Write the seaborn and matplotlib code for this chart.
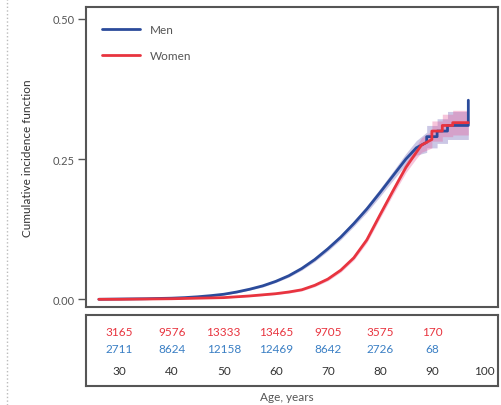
import matplotlib
matplotlib.use("Agg")
import matplotlib.pyplot as plt
from matplotlib.lines import Line2D
import numpy as np
import pandas as pd
import seaborn as sns

# cumulative incidence
men_age = [26, 30, 35, 40, 42.5, 45, 47.5, 50, 52.5, 55, 57.5, 60, 62.5, 65, 67.5, 70,
           72.5, 75, 77.5, 80, 82.5, 85, 87, 89, 89, 91, 91, 93, 93, 97, 97]
men_cif = [0, 0.0005, 0.001, 0.002, 0.003, 0.0045, 0.0065, 0.009, 0.013, 0.018, 0.024,
           0.032, 0.042, 0.055, 0.071, 0.09, 0.111, 0.135, 0.161, 0.19, 0.22, 0.25, 0.27,
           0.28, 0.29, 0.29, 0.30, 0.30, 0.31, 0.31, 0.355]
men_ci = [0, 0, 0, 0.0005, 0.0005, 0.001, 0.001, 0.001, 0.0015, 0.0015, 0.002, 0.002,
          0.0025, 0.003, 0.0035, 0.004, 0.0045, 0.005, 0.006, 0.007, 0.008, 0.01, 0.013,
          0.018, 0.02, 0.02, 0.022, 0.022, 0.025, 0.025, 0.025]

women_age = [26, 30, 35, 40, 45, 50, 52.5, 55, 57.5, 60, 62.5, 65, 67.5, 70, 72.5, 75,
             77.5, 80, 82.5, 85, 87, 88, 90, 90, 92, 92, 94, 94, 97]
women_cif = [0, 0, 0.0005, 0.001, 0.002, 0.003, 0.0045, 0.006, 0.008, 0.010, 0.013, 0.017,
             0.025, 0.036, 0.052, 0.074, 0.106, 0.15, 0.193, 0.235, 0.262, 0.275, 0.285,
             0.30, 0.30, 0.31, 0.31, 0.315, 0.315]
women_ci = [0, 0, 0, 0, 0.0005, 0.0005, 0.001, 0.001, 0.0015, 0.0015, 0.002, 0.002,
            0.0025, 0.003, 0.0035, 0.004, 0.005, 0.006, 0.007, 0.009, 0.011, 0.013, 0.015,
            0.018, 0.018, 0.02, 0.02, 0.022, 0.022]

# numbers at risk
risk_ages = [30, 40, 50, 60, 70, 80, 90]
women_risk = [3165, 9576, 13333, 13465, 9705, 3575, 170]
men_risk = [2711, 8624, 12158, 12469, 8642, 2726, 68]
age_ticks = [30, 40, 50, 60, 70, 80, 90, 100]

blue = "#2b4b9b"
red = "#e8343f"
grey = "#555555"

sns.set_style("white")
plt.rcParams["font.family"] = ["Lato", "DejaVu Sans"]

df = pd.concat([
    pd.DataFrame({"age": men_age, "cif": men_cif, "sex": "Men"}),
    pd.DataFrame({"age": women_age, "cif": women_cif, "sex": "Women"}),
])

fig = plt.figure(figsize=(5.02, 4.06), dpi=100)
ax = fig.add_axes([0.171, 0.241, 0.821, 0.739])
tab = fig.add_axes([0.171, 0.047, 0.821, 0.175])

xlim = (23.5, 102.7)

# bands first
ax.fill_between(men_age, np.array(men_cif) - men_ci, np.array(men_cif) + men_ci,
                color="#6a5fb5", alpha=0.35, lw=0)
ax.fill_between(women_age, np.array(women_cif) - women_ci, np.array(women_cif) + women_ci,
                color="#e85a9a", alpha=0.35, lw=0)

sns.lineplot(data=df, x="age", y="cif", hue="sex", estimator=None,
             palette={"Men": blue, "Women": red}, linewidth=2.0, ax=ax)

ax.set_xlim(*xlim)
ax.set_ylim(-0.014, 0.521)
ax.set_yticks([0, 0.25, 0.5])
ax.set_yticklabels(["0.00", "0.25", "0.50"])
ax.set_xticks([])
ax.set_xlabel("")
ax.set_ylabel("Cumulative incidence function", fontsize=8.5, color="#333333", labelpad=14)
ax.tick_params(axis="y", left=True, length=6, width=1, color=grey, labelsize=8,
               labelcolor="#555555", pad=2)
for s in ax.spines.values():
    s.set_color(grey)
    s.set_linewidth(1.5)

leg = ax.legend(loc="upper left", frameon=False, fontsize=8.5, handlelength=3.2,
                labelspacing=1.3, borderaxespad=1.0, bbox_to_anchor=(0.0, 1.0))
for t in leg.get_texts():
    t.set_color("#555555")
for h in leg.get_lines():
    h.set_linewidth(2)

# risk table
tab.set_xlim(*xlim)
tab.set_ylim(0, 1)
tab.set_xticks([])
tab.set_yticks([])
for s in tab.spines.values():
    s.set_color(grey)
    s.set_linewidth(1.5)
for a, w, m in zip(risk_ages, women_risk, men_risk):
    tab.text(a, 0.76, str(w), color=red, fontsize=8.5, ha="center", va="center")
    tab.text(a, 0.52, str(m), color="#3a7fc4", fontsize=8.5, ha="center", va="center")
for a in age_ticks:
    tab.text(a, 0.21, str(a), color="#333333", fontsize=8.5, ha="center", va="center")

fig.text(0.572, 0.022, "Age, years", color="#555555", fontsize=8.5, ha="center", va="center")

fig.add_artist(Line2D([0.014, 0.014], [0.0, 1.0], transform=fig.transFigure,
                      color="#bbbbbb", linestyle=":", linewidth=1))

fig.savefig("out.png", dpi=100)
